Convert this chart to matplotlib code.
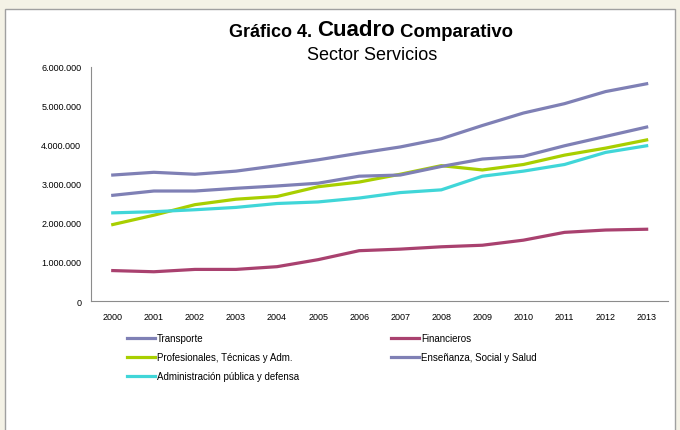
import matplotlib.pyplot as plt
from matplotlib.patches import Rectangle

years = [str(y) for y in range(2000, 2014)]

transporte = [3.23, 3.30, 3.25, 3.33, 3.47, 3.62, 3.79, 3.95, 4.16, 4.50, 4.82, 5.06, 5.37, 5.57]
financieros = [0.78, 0.75, 0.81, 0.81, 0.88, 1.06, 1.29, 1.33, 1.39, 1.43, 1.56, 1.76, 1.82, 1.84]
profesionales = [1.96, 2.20, 2.47, 2.61, 2.68, 2.93, 3.05, 3.25, 3.47, 3.36, 3.50, 3.74, 3.92, 4.13]
ensenanza = [2.71, 2.82, 2.82, 2.89, 2.95, 3.02, 3.20, 3.23, 3.45, 3.64, 3.71, 3.98, 4.22, 4.46]
administracion = [2.26, 2.29, 2.34, 2.40, 2.50, 2.54, 2.64, 2.78, 2.85, 3.20, 3.33, 3.50, 3.81, 3.98]

y_ticks = [0, 1e6, 2e6, 3e6, 4e6, 5e6, 6e6]
y_labels = ['0', '1.000.000', '2.000.000', '3.000.000', '4.000.000', '5.000.000', '6.000.000']

plt.rcParams['font.family'] = ['Liberation Sans', 'DejaVu Sans']

W, H = 680, 431
fig = plt.figure(figsize=(W / 100, H / 100), dpi=100)
fig.patch.set_facecolor('#f4f2e6')
# white chart panel behind everything
fig.patches.append(Rectangle((5 / W, -0.01), 670 / W, 1 - 10 / H + 0.01, transform=fig.transFigure,
                             facecolor='white', edgecolor='#a0a0a0', lw=1, zorder=-5))

ax = fig.add_axes([91 / W, 1 - 302 / H, (668 - 91) / W, (302 - 68) / H])
ax.patch.set_alpha(0)
x = range(len(years))
purple = '#7f80b5'
series = [
    ('Transporte', transporte, purple),
    ('Financieros', financieros, '#a9416f'),
    ('Profesionales, Técnicas y Adm.', profesionales, '#a8cf00'),
    ('Enseñanza, Social y Salud', ensenanza, purple),
    ('Administración pública y defensa', administracion, '#40d6d8'),
]
lines = {}
for name, vals, col in series:
    ln, = ax.plot(x, [v * 1e6 for v in vals], color=col, lw=2.3, label=name)
    lines[name] = ln

ax.set_xlim(-0.53, 13.52)
ax.set_ylim(0, 6e6)
ax.set_xticks(list(x))
ax.set_xticklabels(years, fontsize=6.5)
ax.set_yticks(y_ticks)
ax.set_yticklabels(y_labels, fontsize=6.5)
ax.tick_params(axis='x', length=0, pad=8)
ax.tick_params(axis='y', length=0, pad=7)
for s in ['top', 'right']:
    ax.spines[s].set_visible(False)
for s in ['left', 'bottom']:
    ax.spines[s].set_color('#8c8c8c')

# title with mixed sizes, chained left to right
t1 = fig.text(229 / W, 1 - 41 / H, 'Gráfico 4. ', fontsize=13, fontweight='bold', ha='left', va='bottom')
t2 = ax.annotate('Cuadro', xy=(1, 0), xycoords=t1, fontsize=16, fontweight='bold',
                 ha='left', va='bottom', annotation_clip=False)
t3 = ax.annotate(' Comparativo', xy=(1, 0), xycoords=t2, fontsize=13.3, fontweight='bold',
                 ha='left', va='bottom', annotation_clip=False)
fig.text(372 / W, 1 - 60 / H, 'Sector Servicios', fontsize=13, ha='center', va='baseline')

left_names = ['Transporte', 'Profesionales, Técnicas y Adm.', 'Administración pública y defensa']
right_names = ['Financieros', 'Enseñanza, Social y Salud']
kw = dict(frameon=False, fontsize=7, handlelength=2.9, handletextpad=0.2, labelspacing=0.95,
          borderaxespad=0, borderpad=0)
fig.legend([lines[n] for n in left_names], left_names, loc='upper left',
           bbox_to_anchor=(127 / W, 1 - 334 / H), **kw)
fig.legend([lines[n] for n in right_names], right_names, loc='upper left',
           bbox_to_anchor=(391 / W, 1 - 334 / H), **kw)

fig.savefig('out.png', dpi=100, facecolor=fig.get_facecolor())
